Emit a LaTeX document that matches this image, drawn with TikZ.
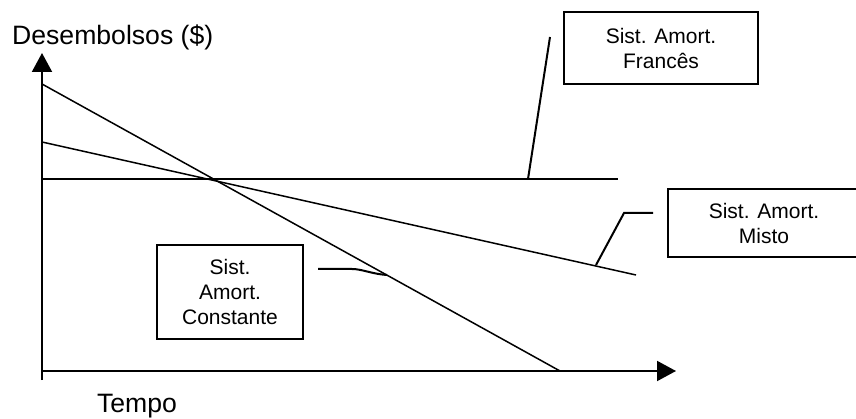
\documentclass[tikz,border=0pt]{standalone}
\usepackage{fontspec}
\setmainfont{Liberation Sans}
\usetikzlibrary{arrows.meta}
\tikzset{
  axisline/.style={line width=2pt,-{Triangle[length=19pt,width=20pt]}},
  curveline/.style={line width=1.5pt},
  leader/.style={line width=2pt},
  labelbox/.style={draw,line width=2pt,align=center,inner sep=0pt,font=\fontsize{21}{25}\selectfont},
  axislabel/.style={inner sep=0pt,font=\fontsize{26.6}{30}\selectfont}
}
\begin{document}
\begin{tikzpicture}[x=1pt,y=-1pt]
\useasboundingbox (0,0) rectangle (856,419);
\clip (0,0) rectangle (856,419);
% axes
\coordinate (ybot) at (42,380);
\coordinate (ytop) at (42,53);
\coordinate (xstart) at (41,371);
\coordinate (xend) at (676,371);
\draw[axisline] (ybot) -- (ytop);
\draw[axisline] (xstart) -- (xend);
\node[axislabel,anchor=west] (ylab) at (12,37) {Desembolsos (\$)};
\node[axislabel] (xlab) at (137,406) {Tempo};
% curves
\coordinate (c1) at (42,84);
\coordinate (c2) at (560,371);
\coordinate (m1) at (42,142);
\coordinate (m2) at (636,275);
\coordinate (f1) at (42,179);
\coordinate (f2) at (618,179);
\draw[curveline] (c1) -- (c2);
\draw[curveline] (m1) -- (m2);
\draw[curveline] (f1) -- (f2);
% boxes
\node[labelbox,minimum width=194pt,minimum height=72pt] (fr) at (661,48) {Sist. Amort.\\Francês};
\node[labelbox,minimum width=208pt,minimum height=68pt] (mi) at (772,223) {\hspace*{-16pt}Sist. Amort.\\\hspace*{-16pt}Misto};
\node[labelbox,minimum width=146pt,minimum height=94pt] (co) at (230,292) {Sist.\\Amort.\\Constante};
% leaders
\coordinate (fa) at (528,179);
\coordinate (fb) at (550,37);
\draw[leader] (fa) -- (fb);
\coordinate (ma) at (596,265);
\coordinate (mb) at (624,213);
\coordinate (mc) at (653,213);
\draw[leader] (ma) -- (mb) -- (mc);
\coordinate (ca) at (318,269);
\coordinate (cb) at (352,269);
\coordinate (cc) at (387,275);
\draw[leader] (ca) -- (cb) .. controls (362,269) and (372,274) .. (cc);
\end{tikzpicture}
\end{document}
